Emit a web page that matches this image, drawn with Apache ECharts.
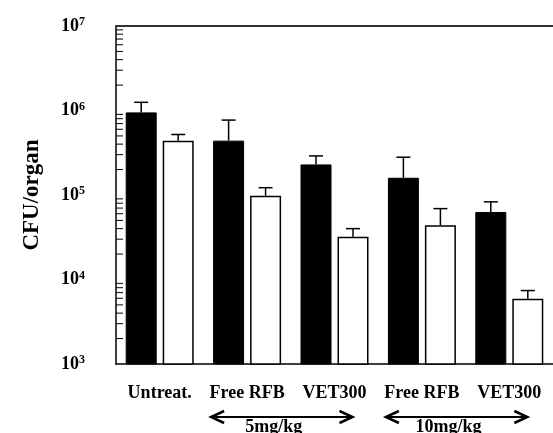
<!DOCTYPE html>
<html>
<head>
<meta charset="utf-8">
<script src="https://cdn.jsdelivr.net/npm/echarts@6/dist/echarts.min.js"></script>
<style>html,body{margin:0;padding:0;background:#fff;}#c{width:553px;height:433px;}</style>
</head>
<body>
<div id="c"></div>
<script>
// ---- data ----
var categories = ['Untreat.', 'Free RFB', 'VET300', 'Free RFB', 'VET300'];
var blackMean = [9.5e5, 4.4e5, 2.3e5, 1.6e5, 6.3e4];
var blackSD   = [3.0e5, 3.3e5, 6.0e4, 1.2e5, 2.0e4];
var whiteMean = [4.4e5, 9.8e4, 3.2e4, 4.4e4, 5.9e3];
var whiteSD   = [8.0e4, 2.4e4, 8.0e3, 2.5e4, 1.5e3];
var yTickExponents = [3, 4, 5, 6, 7];
var doseGroups = [
  { label: '5mg/kg', from: 1, to: 2 },
  { label: '10mg/kg', from: 3, to: 4 }
];

var SERIF = '"Liberation Serif","Times New Roman",serif';
var BAR_W = 31, BAR_GAP = 6;

// minor tick values on log axis (2..9 x 10^k)
var minorTicks = [];
for (var e = 3; e < 7; e++) for (var k = 2; k <= 9; k++) minorTicks.push([0, k * Math.pow(10, e)]);

function errData(mean, sd) {
  return mean.map(function (m, i) { return [i, m, m + sd[i]]; });
}
function errRender(offset) {
  return function (params, api) {
    var p0 = api.coord([api.value(0), api.value(1)]);
    var p1 = api.coord([api.value(0), api.value(2)]);
    var x = p0[0] + offset;
    return {
      type: 'group',
      children: [
        { type: 'line', shape: { x1: x, y1: p0[1], x2: x, y2: p1[1] }, style: { stroke: '#000', lineWidth: 1.5 } },
        { type: 'line', shape: { x1: x - 7, y1: p1[1], x2: x + 7, y2: p1[1] }, style: { stroke: '#000', lineWidth: 1.5 } }
      ]
    };
  };
}

var chart = echarts.init(document.getElementById('c'), null, { renderer: 'canvas' });
chart.setOption({
  backgroundColor: '#fff',
  animation: false,
  grid: { left: 116, right: 0, top: 26, bottom: 69, containLabel: false },
  xAxis: [{
    type: 'category',
    data: categories,
    boundaryGap: true,
    axisLine: { lineStyle: { color: '#000', width: 1.5 } },
    axisTick: { inside: true, length: 12, lineStyle: { color: '#000', width: 1.5 } },
    axisLabel: { interval: 0, margin: 20, color: '#000', fontFamily: SERIF, fontWeight: 'bold', fontSize: 18 }
  }, {
    type: 'category',
    position: 'top',
    data: categories,
    axisLine: { lineStyle: { color: '#333', width: 2 } },
    axisTick: { show: false },
    axisLabel: { show: false }
  }],
  yAxis: {
    type: 'log',
    logBase: 10,
    min: 1e3,
    max: 1e7,
    name: 'CFU/organ',
    nameLocation: 'middle',
    nameRotate: 90,
    nameGap: 72,
    nameTextStyle: { color: '#000', fontFamily: SERIF, fontWeight: 'bold', fontSize: 23 },
    splitLine: { show: false },
    axisLine: { show: true, lineStyle: { color: '#000', width: 1.5 } },
    axisTick: { inside: true, length: 10, lineStyle: { color: '#000', width: 1.2 } },
    axisLabel: {
      margin: 31,
      formatter: function (v) {
        var ex = Math.round(Math.log10(v));
        return '{b|10}{s|' + ex + '}';
      },
      rich: {
        b: { fontFamily: SERIF, fontWeight: 'bold', fontSize: 18, color: '#000', lineHeight: 20 },
        s: { fontFamily: SERIF, fontWeight: 'bold', fontSize: 12, color: '#000', verticalAlign: 'top', lineHeight: 12 }
      }
    }
  },
  series: [
    {
      type: 'bar', data: blackMean, barWidth: BAR_W, barGap: (BAR_GAP / BAR_W * 100) + '%',
      itemStyle: { color: '#000', borderColor: '#000', borderWidth: 1 }
    },
    {
      type: 'bar', data: whiteMean, barWidth: BAR_W,
      itemStyle: { color: '#fff', borderColor: '#000', borderWidth: 1.5 }
    },
    {
      type: 'custom', data: errData(blackMean, blackSD), renderItem: errRender(-(BAR_W + BAR_GAP) / 2), z: 5,
      encode: { x: 0, y: [1, 2] }
    },
    {
      type: 'custom', data: errData(whiteMean, whiteSD), renderItem: errRender((BAR_W + BAR_GAP) / 2), z: 5,
      encode: { x: 0, y: [1, 2] }
    },
    {
      type: 'custom', data: minorTicks, z: 6, clip: false,
      renderItem: function (params, api) {
        var c = api.coord([0, api.value(1)]);
        var band = api.size([1, 0])[0];
        var x0 = c[0] - band / 2;
        return { type: 'line', shape: { x1: x0, y1: c[1], x2: x0 + 7, y2: c[1] }, style: { stroke: '#000', lineWidth: 1 } };
      }
    }
  ]
});

// dose range arrows under the category labels
var AY = 417;
var graphics = [];
doseGroups.forEach(function (g) {
  var xa = chart.convertToPixel({ xAxisIndex: 0 }, g.from) - 36;
  var xb = chart.convertToPixel({ xAxisIndex: 0 }, g.to) + 18;
  var st = { stroke: '#000', lineWidth: 2, fill: null };
  graphics.push({ type: 'line', shape: { x1: xa, y1: AY, x2: xb, y2: AY }, style: st });
  graphics.push({ type: 'polyline', shape: { points: [[xa + 13, AY - 6], [xa, AY], [xa + 13, AY + 6]] }, style: { stroke: '#000', lineWidth: 2.5, fill: null } });
  graphics.push({ type: 'polyline', shape: { points: [[xb - 13, AY - 6], [xb, AY], [xb - 13, AY + 6]] }, style: { stroke: '#000', lineWidth: 2.5, fill: null } });
  graphics.push({
    type: 'text', x: (xa + xb) / 2 - 8, y: AY + 1,
    style: { text: g.label, font: 'bold 18px ' + SERIF, fill: '#000', textAlign: 'center', textVerticalAlign: 'top' }
  });
});
chart.setOption({ graphic: graphics });
</script>
</body>
</html>
